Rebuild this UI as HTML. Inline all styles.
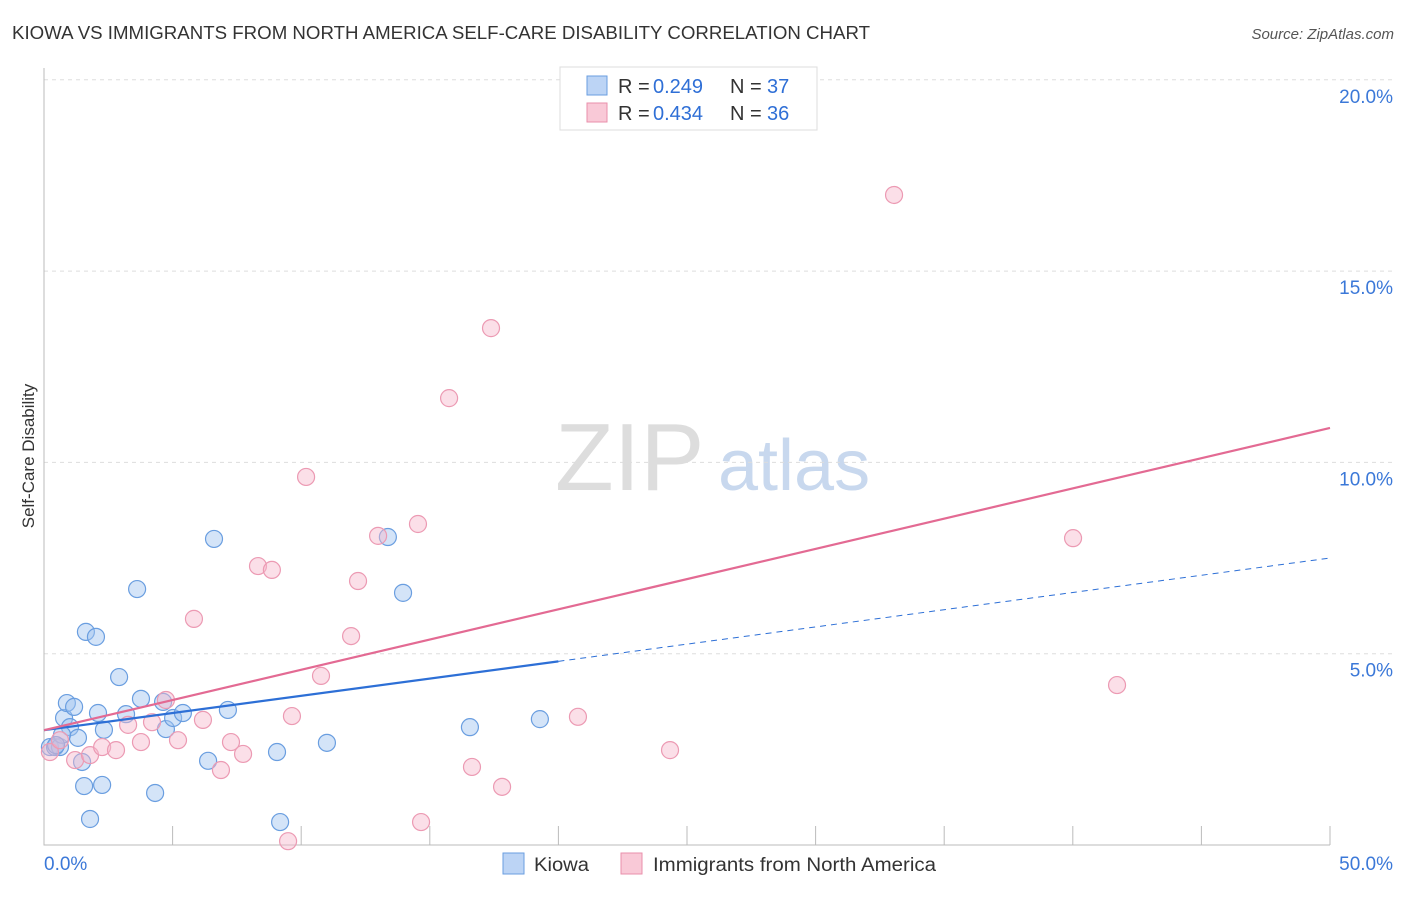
<!DOCTYPE html>
<html><head><meta charset="utf-8"><style>
body{margin:0;background:#fff;font-family:"Liberation Sans",sans-serif}
svg text{font-family:"Liberation Sans",sans-serif}
</style></head><body>
<svg width="1406" height="892">
<text x="12" y="39" font-size="18" fill="#333" textLength="858" lengthAdjust="spacingAndGlyphs">KIOWA VS IMMIGRANTS FROM NORTH AMERICA SELF-CARE DISABILITY CORRELATION CHART</text>
<text x="1394" y="39" font-size="15" fill="#555" font-style="italic" text-anchor="end">Source: ZipAtlas.com</text>
<text x="555" y="490" font-size="96" fill="#ddd" font-family="Liberation Serif">ZIP</text>
<text x="718" y="490" font-size="72" fill="#c8d8ee">atlas</text>
<g id="grid"></g>
<g id="axes"></g>
<g id="marks"></g>
<text transform="translate(34,456) rotate(-90)" font-size="17" fill="#333" text-anchor="middle">Self-Care Disability</text>
<g>
<rect x="560" y="67" width="257" height="63" fill="#fff" stroke="#ddd"/>
<rect x="587" y="76" width="20" height="19" fill="#bcd4f5" stroke="#6a9ee0"/>
<rect x="587" y="103" width="20" height="19" fill="#f9c9d7" stroke="#e98fab"/>
<text x="618" y="93" font-size="20" fill="#333">R =</text>
<text x="653" y="93" font-size="20" fill="#2f6fd6">0.249</text>
<text x="730" y="93" font-size="20" fill="#333">N =</text>
<text x="767" y="93" font-size="20" fill="#2f6fd6">37</text>
<text x="618" y="120" font-size="20" fill="#333">R =</text>
<text x="653" y="120" font-size="20" fill="#2f6fd6">0.434</text>
<text x="730" y="120" font-size="20" fill="#333">N =</text>
<text x="767" y="120" font-size="20" fill="#2f6fd6">36</text>
</g>
<g>
<rect x="503" y="853" width="21" height="21" fill="#bcd4f5" stroke="#6a9ee0"/>
<text x="534" y="871" font-size="19" fill="#333" textLength="55" lengthAdjust="spacingAndGlyphs">Kiowa</text>
<rect x="621" y="853" width="21" height="21" fill="#f9c9d7" stroke="#e98fab"/>
<text x="653" y="871" font-size="19" fill="#333" textLength="283" lengthAdjust="spacingAndGlyphs">Immigrants from North America</text>
</g>
</svg>
<script>
const blueX=[0.23,0.43,0.62,0.78,0.89,1.17,1.01,1.32,0.70,1.48,1.56,1.63,2.02,1.79,2.10,2.26,2.33,2.92,3.19,3.62,3.77,4.32,4.63,4.74,5.02,5.40,6.38,6.61,7.15,9.06,9.18,11.00,13.37,13.96,16.56,19.28,0.47];
const blueY=[2.56,2.56,2.56,3.32,3.71,3.61,3.08,2.80,2.88,2.17,1.54,5.57,5.44,0.68,3.45,1.57,3.01,4.39,3.42,6.69,3.82,1.36,3.74,3.03,3.32,3.45,2.20,8.00,3.53,2.43,0.60,2.67,8.05,6.59,3.08,3.29,2.61];
const pinkX=[0.23,0.62,1.21,1.79,2.26,2.80,3.27,3.77,4.20,4.74,5.21,5.83,6.18,6.88,7.27,7.74,8.32,8.86,9.64,10.19,10.77,11.94,12.21,12.99,14.54,14.66,15.75,16.64,17.38,17.81,20.76,24.34,33.05,40.01,41.72,9.49];
const pinkY=[2.43,2.74,2.22,2.35,2.56,2.48,3.14,2.69,3.21,3.79,2.74,5.91,3.27,1.96,2.69,2.38,7.29,7.19,3.37,9.62,4.42,5.46,6.90,8.08,8.39,0.60,11.68,2.04,13.51,1.52,3.35,2.48,16.99,8.02,4.18,0.10];
const blueTrend=[3.0,7.5], blueSolidEnd=20;
const pinkTrend=[3.0,10.9];
const yTicks=[5,10,15,20];
const yTickLabels=["5.0%","10.0%","15.0%","20.0%"];
const xTicks=[0,5,10,15,20,25,30,35,40,45,50];
const NS="http://www.w3.org/2000/svg";
const X=v=>44+v*25.72, Y=v=>845-v*38.26;
function mk(parent,tag,attrs){const e=document.createElementNS(NS,tag);for(const k in attrs)e.setAttribute(k,attrs[k]);document.getElementById(parent).appendChild(e);return e;}
yTicks.forEach((t,i)=>{
 const l=mk('grid','line',{x1:44,x2:1393,y1:Y(t),y2:Y(t),stroke:'#ddd','stroke-dasharray':'4,4'});
 
 
 const tx=mk('grid','text',{x:1393,y:Y(t)+23,'font-size':19,fill:'#3b78d8','text-anchor':'end'});
 tx.textContent=yTickLabels[i];
 
 
});
const ax=mk('axes','path',{d:'M44,68V845H1330',stroke:'#bbb',fill:'none'});


xTicks.forEach(t=>{
 const l=mk('axes','line',{x1:X(t),x2:X(t),y1:826,y2:845,stroke:'#bbb'});
 
 
});
const x0=mk('axes','text',{x:44,y:870,'font-size':19,fill:'#3b78d8'});x0.textContent='0.0%';


const x1=mk('axes','text',{x:1393,y:870,'font-size':19,fill:'#3b78d8','text-anchor':'end'});x1.textContent='50.0%';


function dots(xs,ys,fill,stroke,name){xs.forEach((v,i)=>{
 const c=mk('marks','circle',{cx:X(v),cy:Y(ys[i]),r:8.5,fill:fill,stroke:stroke,'stroke-width':1.2});
 
 
});}
dots(blueX,blueY,'rgba(160,195,240,0.45)','#6a9ee0','kiowa-point');
dots(pinkX,pinkY,'rgba(247,185,205,0.45)','#ec9ab3','immigrants-point');
const bv=x=>blueTrend[0]+(blueTrend[1]-blueTrend[0])*x/50;
const b1=mk('marks','line',{x1:X(0),y1:Y(bv(0)),x2:X(blueSolidEnd),y2:Y(bv(blueSolidEnd)),stroke:'#2d6fd6','stroke-width':2.2});


const b2=mk('marks','line',{x1:X(blueSolidEnd),y1:Y(bv(blueSolidEnd)),x2:X(50),y2:Y(bv(50)),stroke:'#2d6fd6','stroke-width':1,'stroke-dasharray':'6,5'});


const p1=mk('marks','line',{x1:X(0),y1:Y(pinkTrend[0]),x2:X(50),y2:Y(pinkTrend[1]),stroke:'#e36a93','stroke-width':2.2});


</script>
</body></html>
